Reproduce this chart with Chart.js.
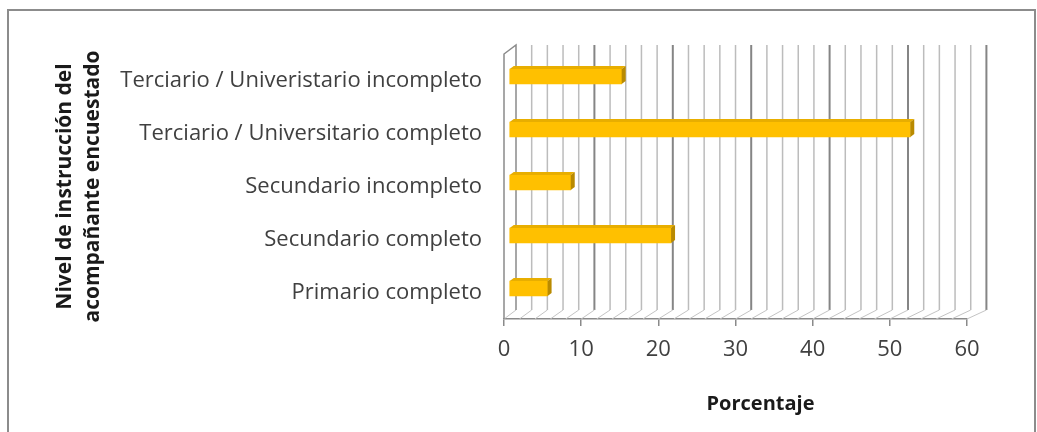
<!DOCTYPE html>
<html>
<head>
<meta charset="utf-8">
<script src="https://cdn.jsdelivr.net/npm/chart.js@4.4.0/dist/chart.umd.min.js"></script>
<style>
  html, body { margin: 0; padding: 0; background: #fff; }
</style>
</head>
<body>
<canvas id="nivelChart" width="1037" height="432"></canvas>
<script>
// data
const categories = [
    'Terciario / Univeristario incompleto',
    'Terciario / Universitario completo',
    'Secundario incompleto',
    'Secundario completo',
    'Primario completo'
];
const porcentaje = [14.6, 52, 8, 21, 5];
const xTicks = [0, 10, 20, 30, 40, 50, 60];
const xTitle = 'Porcentaje';
const yTitle = ['Nivel de instrucción del', 'acompañante encuestado'];

const canvas = document.getElementById('nivelChart');
const FONT = "'Open Sans'";
const DEPTH_Y = 9;
const MINOR_STEP = 2;

function depthX(scale, px) {
    return 12 + (px - scale.left) * 0.016;
}

// fake 3D walls like the old excel charts
const wallPlugin = {
    id: 'wall3d',
    beforeDraw(chart) {
        const ctx = chart.ctx;
        ctx.save();
        ctx.fillStyle = '#fff';
        ctx.fillRect(0, 0, chart.width, chart.height);
        ctx.strokeStyle = '#8c8c8c';
        ctx.lineWidth = 2;
        ctx.strokeRect(8, 10, chart.width - 10, chart.height);
        ctx.restore();
    },
    beforeDatasetsDraw(chart) {
        const { ctx, chartArea: a, scales: { x } } = chart;
        ctx.save();
        for (let v = x.min; v <= x.max; v += MINOR_STEP) {
            const fx = x.getPixelForValue(v);
            const bx = fx + depthX(x, fx);
            const major = v % 10 === 0;
            ctx.strokeStyle = major ? '#858585' : '#bcbcbc';
            ctx.lineWidth = major ? 2 : 1.5;
            if (v > x.min) {
                ctx.beginPath();
                ctx.moveTo(bx, a.top - DEPTH_Y);
                ctx.lineTo(bx, a.bottom - DEPTH_Y);
                ctx.stroke();
            }
            ctx.strokeStyle = '#c4c4c4';
            ctx.lineWidth = 1;
            ctx.beginPath();
            ctx.moveTo(bx, a.bottom - DEPTH_Y);
            ctx.lineTo(fx, a.bottom);
            ctx.stroke();
        }
        // left wall
        const l = a.left;
        const lb = l + depthX(x, l);
        ctx.strokeStyle = '#8a8a8a';
        ctx.lineWidth = 1.5;
        ctx.beginPath();
        ctx.moveTo(l, a.bottom);
        ctx.lineTo(l, a.top);
        ctx.lineTo(lb, a.top - DEPTH_Y);
        ctx.lineTo(lb, a.bottom - DEPTH_Y);
        ctx.stroke();
        ctx.restore();

        // bars sit halfway into the depth
        ctx.save();
        ctx.translate(5, -4);
    },
    afterDatasetsDraw(chart) {
        const ctx = chart.ctx;
        const meta = chart.getDatasetMeta(0);
        meta.data.forEach(bar => {
            const top = bar.y - bar.height / 2;
            const bottom = bar.y + bar.height / 2;
            // top face
            ctx.fillStyle = '#E8AE00';
            ctx.beginPath();
            ctx.moveTo(bar.base, top);
            ctx.lineTo(bar.base + 4, top - 3);
            ctx.lineTo(bar.x + 4, top - 3);
            ctx.lineTo(bar.x, top);
            ctx.closePath();
            ctx.fill();
            // side face
            ctx.fillStyle = '#B98A00';
            ctx.beginPath();
            ctx.moveTo(bar.x, top);
            ctx.lineTo(bar.x + 4, top - 3);
            ctx.lineTo(bar.x + 4, bottom - 3);
            ctx.lineTo(bar.x, bottom);
            ctx.closePath();
            ctx.fill();
        });
        ctx.restore();
    },
    afterDraw(chart) {
        const { ctx, scales: { x } } = chart;
        ctx.save();
        ctx.font = 'bold 20px ' + FONT;
        ctx.fillStyle = '#1a1a1a';
        ctx.textAlign = 'center';
        ctx.textBaseline = 'middle';
        ctx.fillText(xTitle, (x.left + x.right) / 2 + 25, 404);
        ctx.restore();
    }
};

new Chart(canvas.getContext('2d'), {
    type: 'bar',
    data: {
        labels: categories,
        datasets: [{
            label: xTitle,
            data: porcentaje,
            backgroundColor: '#FFC000',
            borderWidth: 0,
            barThickness: 15
        }]
    },
    options: {
        indexAxis: 'y',
        responsive: false,
        animation: false,
        layout: { padding: { top: 54, right: 70, bottom: 0, left: 0 } },
        plugins: {
            legend: { display: false },
            tooltip: { enabled: false }
        },
        scales: {
            x: {
                min: 0,
                max: 60,
                afterBuildTicks: s => { s.ticks = xTicks.map(v => ({ value: v })); },
                ticks: { font: { family: FONT, size: 22 }, color: '#404040', padding: 11 },
                grid: { drawOnChartArea: false, drawTicks: true, tickLength: 7, color: '#8a8a8a', lineWidth: 1.5 },
                border: { display: true, color: '#8a8a8a', width: 1.5 },
                afterFit: s => { s.height = 113; }
            },
            y: {
                ticks: { font: { family: FONT, size: 22 }, color: '#404040', padding: 14 },
                grid: { display: false },
                border: { display: false },
                title: {
                    display: true,
                    text: yTitle,
                    font: { family: FONT, size: 21, weight: 'bold', lineHeight: 1.33 },
                    color: '#1a1a1a',
                    padding: { top: 51, bottom: 0 }
                },
                afterFit: s => { s.width = 504; }
            }
        }
    },
    plugins: [wallPlugin]
});
</script>
</body>
</html>
